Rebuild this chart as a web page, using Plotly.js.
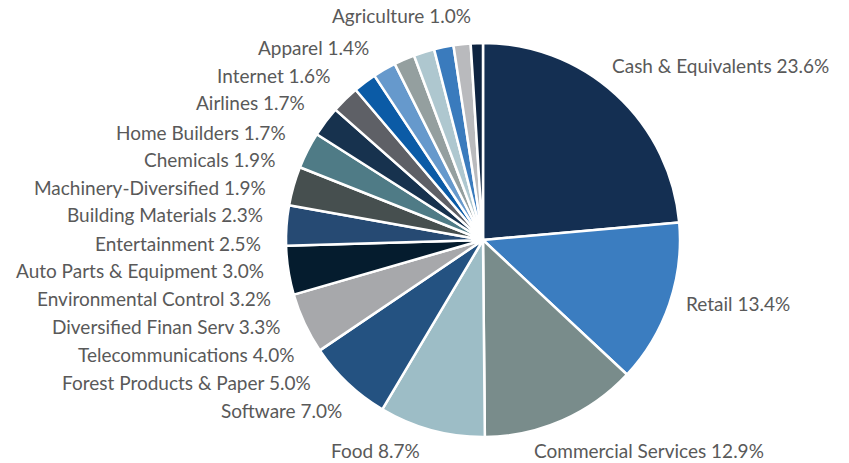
<!DOCTYPE html>
<html>
<head>
<meta charset="utf-8">
<script src="https://cdn.plot.ly/plotly-3.0.1.min.js"></script>
<style>html,body{margin:0;padding:0;background:#fff;}#chart{width:849px;height:463px;}</style>
</head>
<body>
<div id="chart"></div>
<script>
const sectors = ["Cash & Equivalents","Retail","Commercial Services","Food","Software","Forest Products & Paper","Telecommunications","Diversified Finan Serv","Environmental Control","Auto Parts & Equipment","Entertainment","Building Materials","Machinery-Diversified","Chemicals","Home Builders","Airlines","Internet","Apparel","Agriculture"];
const weights = [23.6,13.4,12.9,8.7,7.0,5.0,4.0,3.3,3.2,3.0,2.5,2.3,1.9,1.9,1.7,1.7,1.6,1.4,1.0];
const sliceColors = ["#142f52","#3b7dc0","#798c8b","#9dbdc6","#245281","#a7a8ab","#051c2e","#264a73","#464f4f","#4f7b86","#17324e","#5e6066","#0b5ba6","#6699cc","#949f9f","#aec7cf","#3a7bbd","#b9babd","#0e2441"];

// label placement (layout only): [pixel x, pixel y, anchor]
const labelPlacement = [
  [610, 66, 'left'], [684, 303, 'left'], [532, 450, 'left'], [422, 450, 'right'],
  [344, 410, 'right'], [313, 382, 'right'], [296, 354, 'right'], [282, 326, 'right'],
  [273, 298, 'right'], [266, 270, 'right'], [263, 243, 'right'], [265, 215, 'right'],
  [268, 187, 'right'], [277, 159, 'right'], [288, 132, 'right'], [307, 103, 'right'],
  [332, 76, 'right'], [371, 47, 'right'], [473, 16, 'right']
];
const W = 849, H = 463;
const labelFont = {family: 'Lato, "Open Sans", sans-serif', size: 19, color: '#595959'};

const annotations = sectors.map((s, i) => ({
  text: s + ' ' + weights[i].toFixed(1) + '%',
  xref: 'paper', yref: 'paper',
  x: labelPlacement[i][0] / W, y: 1 - labelPlacement[i][1] / H,
  xanchor: labelPlacement[i][2], yanchor: 'middle',
  showarrow: false, font: labelFont
}));

Plotly.newPlot('chart', [{
  type: 'pie',
  labels: sectors,
  values: weights,
  sort: false,
  direction: 'clockwise',
  rotation: 0,
  marker: {colors: sliceColors, line: {color: '#ffffff', width: 2.5}},
  textinfo: 'none',
  hoverinfo: 'none',
  showlegend: false,
  automargin: false,
  domain: {x: [286 / W, 680 / W], y: [1 - 437 / H, 1 - 43 / H]}
}], {
  width: W, height: H,
  margin: {l: 0, r: 0, t: 0, b: 0},
  paper_bgcolor: '#ffffff',
  showlegend: false,
  annotations: annotations
}, {displayModeBar: false, staticPlot: true});
</script>
</body>
</html>
